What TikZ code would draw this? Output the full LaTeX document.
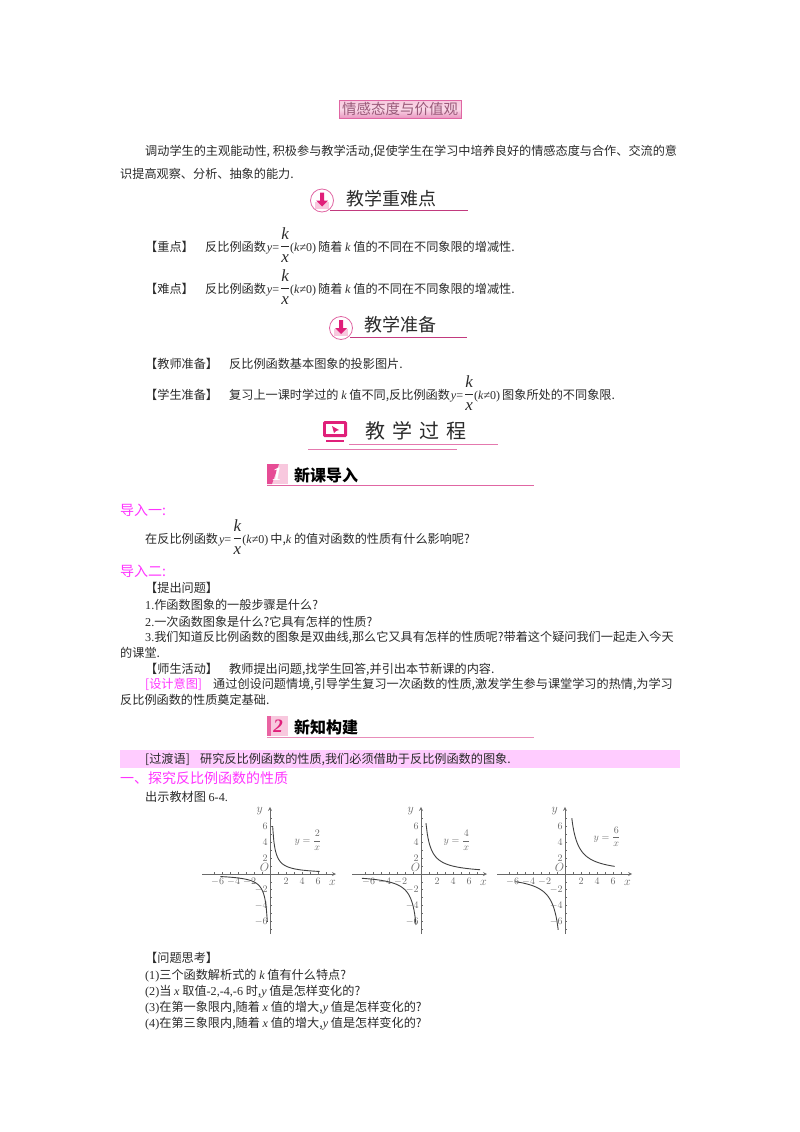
\documentclass[tikz,border=0pt]{standalone}
\usepackage{amsmath}
\usepackage{fontspec}
\setmainfont{Noto Sans CJK SC}
\newfontfamily\latin{Liberation Serif}
\newcommand{\lat}[1]{{\latin #1}}
\newcommand{\ita}[1]{{\latin\itshape #1}}
\newcommand{\ykx}{\hspace{1pt}\ita{y}\lat{=}\hspace{1pt}{\fontsize{17}{17}\selectfont$\dfrac{\hbox{\ita{k}}}{\hbox{\ita{x}}}$}{\fontsize{12}{12}\selectfont\latin(\textit{k}≠0)}\hspace{2pt}}
\definecolor{txt}{HTML}{2A2A2A}
\definecolor{rose}{HTML}{D8408C}
\definecolor{deep}{HTML}{E0207A}
\definecolor{pale}{HTML}{F8C8DE}
\definecolor{lilac}{HTML}{FF33FF}
\definecolor{band}{HTML}{FFCCFF}
\definecolor{axisgray}{HTML}{6A6A6A}
\tikzset{
  body/.style={anchor=base west,inner sep=0pt,text=txt,font=\fontsize{12.15}{14}\selectfont},
  pinkbody/.style={body,text=lilac,font=\fontsize{14}{16}\selectfont},
  headline/.style={anchor=base west,inner sep=0pt,text=txt,font=\fontsize{18}{20}\selectfont},
  newhead/.style={anchor=base west,inner sep=0pt,text=black,font=\fontsize{16}{18}\selectfont\bfseries},
  ticklabel/.style={inner sep=0pt,text=axisgray,font=\fontsize{10}{11}\selectfont},
  axisname/.style={ticklabel,font=\fontsize{12.5}{13}\selectfont}
}
\begin{document}
\begin{tikzpicture}[x=1pt,y=-1pt]
\useasboundingbox (0,0) rectangle (800,1132);
% title box
\shade[top color=pale,bottom color=rose!55,middle color=pale!70,draw=rose!80,line width=1pt] (339,100) rectangle (461,118);
\node[anchor=center,inner sep=0pt,text=rose!55!black!75,font=\fontsize{14.5}{16}\selectfont] (title) at (400,109) {情感态度与价值观};
\node[body] (l1) at (145,155) {调动学生的主观能动性, 积极参与教学活动,促使学生在学习中培养良好的情感态度与合作、交流的意};
\node[body] (l2) at (120,178) {识提高观察、分析、抽象的能力.};
% arrow icons of the two headings
\foreach \cx/\cy in {322/200.5,341/328} {
\draw[rose!80,fill=white,line width=0.8pt] (\cx,\cy) circle (11.5);
\fill[pale] (\cx-7,\cy+1) rectangle (\cx+7,\cy+8);
\fill[deep] (\cx-2,\cy-8) -- (\cx+2,\cy-8) -- (\cx+2,\cy) -- (\cx+6,\cy) -- (\cx,\cy+6) -- (\cx-6,\cy) -- (\cx-2,\cy) -- cycle;
}
% heading one
\draw[rose!90!black,line width=0.9pt] (330,210) -- (468,210);
\node[headline] (hard) at (346,205) {教学重难点};
\node[body] (k1) at (145,251) {【重点】};
\node[body] (k1t) at (205,251) {反比例函数\ykx 随着 \ita{k} 值的不同在不同象限的增减性.};
\node[body] (k2) at (145,293) {【难点】};
\node[body] (k2t) at (205,293) {反比例函数\ykx 随着 \ita{k} 值的不同在不同象限的增减性.};
% heading two
\draw[rose!90!black,line width=0.9pt] (350,337) -- (467,337);
\node[headline] (prep) at (364,331) {教学准备};
\node[body] (p1) at (145,368) {【教师准备】};
\node[body] (p1t) at (229,368) {反比例函数基本图象的投影图片.};
\node[body] (p2) at (145,399) {【学生准备】};
\node[body] (p2t) at (229,399) {复习上一课时学过的 \ita{k} 值不同,反比例函数\ykx 图象所处的不同象限.};
% heading three
\draw[rose!70,line width=1pt] (349,444) -- (498,444);
\draw[rose!70,line width=1pt] (308,449) -- (457,449);
\fill[deep,rounded corners=1.5pt] (323,421) rectangle (347,437);
\fill[white] (326,424) rectangle (344,434);
\fill[deep] (332,426) -- (339,430) -- (336,431) -- (334,433) -- cycle;
\fill[deep] (326,439.5) rectangle (344,442);
\node[anchor=base west,inner sep=0pt,text=txt,font=\fontsize{20}{22}\selectfont] (proc) at (365,438) {教\hspace{7pt}学\hspace{7pt}过\hspace{7pt}程};
% badge one
\fill[pale] (267,464) rectangle (288,484);
\fill[deep!80] (267,464) -- (279,464) -- (272,484) -- (267,484) -- cycle;
\node[inner sep=0pt,text=white,font=\fontsize{19}{19}\selectfont\latin\bfseries\itshape] (num1) at (277,474) {1};
\draw[rose!80,line width=0.8pt] (267,485) -- (534,485);
\node[newhead] (new1) at (294,481) {新课导入};
\node[pinkbody] (in1) at (120,515) {导入一:};
\node[body] (in1t) at (145,543) {在反比例函数\ykx 中,\ita{k} 的值对函数的性质有什么影响呢?};
\node[pinkbody] (in2) at (120,576) {导入二:};
\node[body] (q0) at (145,592) {【提出问题】};
\node[body] (q1) at (145,609) {\lat{1.}作函数图象的一般步骤是什么?};
\node[body] (q2) at (145,626) {\lat{2.}一次函数图象是什么?它具有怎样的性质?};
\node[body] (q3) at (145,641) {\lat{3.}我们知道反比例函数的图象是双曲线,那么它又具有怎样的性质呢?带着这个疑问我们一起走入今天};
\node[body] (q3b) at (120,657) {的课堂.};
\node[body] (act) at (145,673) {【师生活动】};
\node[body] (actt) at (229,673) {教师提出问题,找学生回答,并引出本节新课的内容.};
\node[body,text=lilac] (idea) at (145,688) {[设计意图]};
\node[body] (ideat) at (213,688) {通过创设问题情境,引导学生复习一次函数的性质,激发学生参与课堂学习的热情,为学习};
\node[body] (ideab) at (120,704) {反比例函数的性质奠定基础.};
% badge two
\fill[pale] (267,716) rectangle (288,736);
\fill[deep!70] (267,716) -- (271,716) -- (271,736) -- (267,736) -- cycle;
\node[inner sep=0pt,text=deep,font=\fontsize{19}{19}\selectfont\latin\bfseries\itshape] (num2) at (278,726) {2};
\draw[rose!60,line width=1pt] (267,737) -- (534,737);
\node[newhead] (new2) at (294,733) {新知构建};
% transition band
\fill[band] (120,750) rectangle (680,768);
\node[body] (tr) at (145,763) {[过渡语]};
\node[body] (trt) at (200,763) {研究反比例函数的性质,我们必须借助于反比例函数的图象.};
\node[pinkbody] (sec) at (120,783) {一、探究反比例函数的性质};
\node[body] (show) at (145,801) {出示教材图 \lat{6-4.}};
% three graphs
\foreach \ox/\xl/\xr/\kk/\lo/\hi/\fx/\fy in {270/-8.5/8.25/2/0.33/6.2/38/4.3,421/-8.6/8.25/4/0.62/7.4/36/4.3,565/-8.5/8.4/6/0.85/6.2/42/4.7} {
\begin{scope}[shift={(\ox,874)},x=8pt,y=7.9pt,axisgray,line width=0.8pt]
\draw[-stealth] (\xl,0) -- (\xr,0);
\draw[-stealth] (0,-7.6) -- (0,8.5);
\foreach \t in {-7,...,7} {\draw (\t,0) -- (\t,0.25);}
\foreach \t in {-7,...,7} {\draw (0,\t) -- (0.25,\t);}
\foreach \t in {2,4,6} {
\node[ticklabel] (xp\ox\t) at (\t,-0.95) {$\t$};
\node[ticklabel,anchor=east] (xm\ox\t) at (-\t+0.3,-0.95) {$-\t$};
\node[ticklabel,anchor=east] (yp\ox\t) at (-0.25,\t) {$\t$};
\node[ticklabel,anchor=east] (ym\ox\t) at (-0.25,-\t) {$-\t$};
}
\node[axisname] (o\ox) at (-0.7,0.8) {$O$};
\node[axisname] (xn\ox) at (7.8,-1.1) {$x$};
\node[axisname] (yn\ox) at (-1.3,8) {$y$};
\node[ticklabel] (eq\ox) at (\fx pt,\fy) {$y=\dfrac{\kk}{x}$};
\draw[black!75,line width=0.9pt,smooth] plot[domain=\lo:\hi,samples=40] (\x,{\kk/\x});
\draw[black!75,line width=0.9pt,smooth] plot[domain=-\hi:-\lo,samples=40] (\x,{\kk/\x});
\end{scope}
}
% questions
\node[body] (t0) at (145,962) {【问题思考】};
\node[body] (t1) at (145,979) {\lat{(1)}三个函数解析式的 \ita{k} 值有什么特点?};
\node[body] (t2) at (145,995) {\lat{(2)}当 \ita{x} 取值\lat{-2,-4,-6} 时,\ita{y} 值是怎样变化的?};
\node[body] (t3) at (145,1011) {\lat{(3)}在第一象限内,随着 \ita{x} 值的增大,\ita{y} 值是怎样变化的?};
\node[body] (t4) at (145,1027) {\lat{(4)}在第三象限内,随着 \ita{x} 值的增大,\ita{y} 值是怎样变化的?};
\end{tikzpicture}
\end{document}
